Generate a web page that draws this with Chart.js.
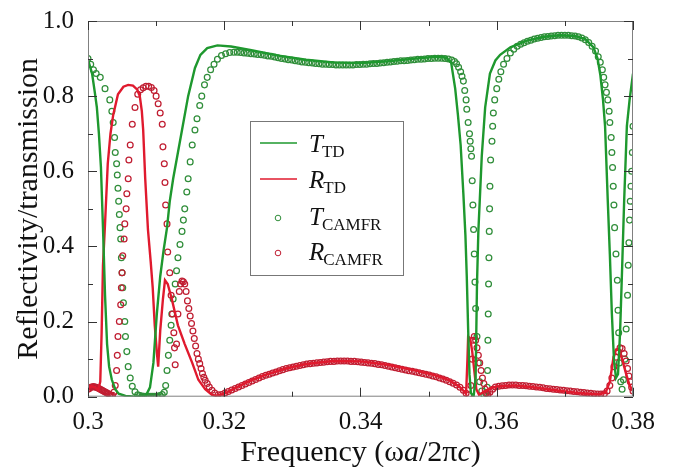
<!DOCTYPE html>
<html><head><meta charset="utf-8">
<script src="https://cdn.jsdelivr.net/npm/chart.js@4.4.1/dist/chart.umd.min.js"></script>
<style>html,body{margin:0;padding:0;background:#fff}#wrap{width:675px;height:467px;position:relative}</style>
</head><body><div id="wrap"><canvas id="c" width="675" height="467"></canvas></div>
<script>
// ---- Data ----
const xTickLabels = ["0.3","0.32","0.34","0.36","0.38"];
const yTickLabels = ["0.0","0.2","0.4","0.6","0.8","1.0"];
const seriesNames = ["T_TD","R_TD","T_CAMFR","R_CAMFR"];

// T_TD (solid green line)
const tdTx = [0.3000,0.3006,0.3010,0.3013,0.3016,0.3019,0.3022,0.3025,0.3028,0.3031,0.3035,0.3040,0.3045,0.3055,0.3070,0.3085,0.3091,0.3096,0.3101,0.3106,0.3111,0.3116,0.3120,0.3125,0.3132,0.3138,0.3147,0.3157,0.3165,0.3175,0.3190,0.3210,0.3240,0.3280,0.3320,0.3360,0.3400,0.3440,0.3480,0.3510,0.3525,0.3533,0.3539,0.3543,0.3547,0.3551,0.3554,0.3556,0.3558,0.3560,0.3562,0.3566,0.3569,0.3571,0.3573,0.3575,0.3578,0.3583,0.3590,0.3598,0.3605,0.3620,0.3644,0.3670,0.3693,0.3715,0.3730,0.3742,0.3748,0.3752,0.3756,0.3759,0.3763,0.3766,0.3769,0.3772,0.3775,0.3778,0.3781,0.3784,0.3787,0.3791,0.3795,0.3800];
const tdT  = [0.897,0.86,0.81,0.77,0.70,0.61,0.45,0.27,0.14,0.08,0.045,0.02,0.008,0.002,0.0,0.003,0.025,0.09,0.22,0.32,0.39,0.45,0.52,0.58,0.65,0.71,0.80,0.875,0.91,0.928,0.935,0.932,0.922,0.908,0.897,0.890,0.888,0.893,0.900,0.905,0.903,0.89,0.82,0.75,0.67,0.54,0.43,0.32,0.18,0.06,0.01,0.0,0.05,0.30,0.44,0.52,0.64,0.77,0.86,0.895,0.91,0.93,0.948,0.958,0.962,0.96,0.952,0.93,0.90,0.857,0.79,0.72,0.52,0.38,0.22,0.10,0.05,0.06,0.17,0.34,0.52,0.72,0.79,0.86];

// R_TD (solid red line)
const tdRx = [0.3000,0.3005,0.3010,0.3015,0.3018,0.3020,0.3022,0.3025,0.3029,0.3033,0.3037,0.3044,0.3052,0.3059,0.3066,0.3072,0.3076,0.3079,0.3081,0.3084,0.3088,0.3092,0.3095,0.3098,0.3101,0.3103,0.3106,0.3110,0.3113,0.3117,0.3123,0.3132,0.3142,0.3153,0.3162,0.3172,0.3182,0.3190,0.3200,0.3215,0.3235,0.3260,0.3290,0.3320,0.3360,0.3400,0.3440,0.3480,0.3510,0.3530,0.3545,0.3552,0.3555,0.3557,0.3558,0.3561,0.3564,0.3567,0.3570,0.3574,0.3580,0.3590,0.3600,0.3625,0.3650,0.3675,0.3700,0.3725,0.3750,0.3760,0.3766,0.3771,0.3775,0.3779,0.3784,0.3790,0.3795,0.3800];
const tdR  = [0.02,0.028,0.025,0.018,0.04,0.17,0.35,0.46,0.62,0.70,0.75,0.805,0.825,0.83,0.828,0.818,0.80,0.76,0.71,0.58,0.445,0.36,0.29,0.19,0.12,0.08,0.175,0.26,0.31,0.30,0.26,0.19,0.14,0.09,0.045,0.02,0.005,0.002,0.008,0.022,0.04,0.058,0.075,0.087,0.095,0.094,0.085,0.07,0.057,0.044,0.027,0.014,0.008,0.10,0.16,0.155,0.12,0.07,0.02,0.005,0.012,0.022,0.027,0.03,0.026,0.02,0.014,0.009,0.006,0.012,0.04,0.10,0.125,0.125,0.10,0.06,0.03,0.015];

// T_CAMFR (green circles)
const camTx = [0.3000,0.3004,0.3008,0.3012,0.3018,0.3025,0.3032,0.3035,0.3037,0.3039,0.3040,0.3042,0.3043,0.3044,0.3045,0.3046,0.3047,0.3048,0.3049,0.3050,0.3051,0.3052,0.3054,0.3055,0.3057,0.3059,0.3062,0.3065,0.3069,0.3073,0.3076,0.3079,0.3082,0.3085,0.3088,0.3091,0.3094,0.3097,0.3100,0.3103,0.3106,0.3109,0.3112,0.3114,0.3116,0.3118,0.3120,0.3122,0.3123,0.3125,0.3128,0.3130,0.3132,0.3135,0.3138,0.3140,0.3142,0.3145,0.3147,0.3150,0.3153,0.3157,0.3160,0.3164,0.3167,0.3171,0.3175,0.3180,0.3185,0.3190,0.3196,0.3202,0.3208,
0.3214,0.3219,0.3224,0.3229,0.3234,0.3239,0.3244,0.3249,0.3254,0.3259,0.3264,0.3269,0.3274,0.3279,0.3284,0.3289,0.3294,0.3299,0.3304,0.3309,0.3314,0.3319,0.3324,0.3329,0.3334,0.3339,0.3344,0.3349,0.3354,0.3359,0.3364,0.3369,0.3374,0.3379,0.3384,0.3389,0.3394,0.3399,0.3404,0.3409,0.3414,0.3419,0.3424,0.3429,0.3434,0.3439,0.3444,0.3449,0.3454,0.3459,0.3464,0.3469,0.3474,0.3479,0.3484,0.3489,0.3494,0.3499,0.3504,0.3509,0.3514,0.3519,0.3524,0.3529,0.3534,0.3538,0.3541,0.3544,0.3547,0.3549,0.3551,0.3553,0.3555,0.3556,0.3558,0.3560,0.3561,0.3562,0.3563,0.3564,0.3565,0.3566,0.3567,0.3568,0.3569,0.3571,0.3573,0.3575,0.3578,0.3581,0.3584,0.3586,0.35865,0.3587,0.35875,0.3588,0.35885,0.3589,0.35895,0.3590,0.3591,0.3593,0.3594,0.3595,0.3597,0.3600,0.3603,0.3606,0.3610,0.3615,0.3620,
0.3625,0.3630,0.3635,0.3640,0.3645,0.3650,0.3655,0.3660,0.3665,0.3670,0.3675,0.3680,0.3685,0.3690,0.3695,0.3700,0.3705,0.3710,0.3715,0.3720,0.3725,0.3730,0.3735,0.3740,0.3745,0.3749,0.3752,0.3755,0.3757,0.3759,0.3761,0.3763,0.3765,0.3766,0.3768,0.3769,0.3770,0.3771,0.3772,0.3773,0.3775,0.3777,0.3778,0.3779,0.3780,0.3782,0.3784,0.3786,0.3788,0.3790,0.3792,0.3793,0.3794,0.3795,0.3796,0.3797,0.3798,0.3799,0.3800];
const camT = [0.90,0.885,0.87,0.86,0.85,0.82,0.79,0.76,0.73,0.69,0.65,0.62,0.59,0.555,0.52,0.485,0.45,0.42,0.37,0.33,0.29,0.25,0.20,0.16,0.12,0.08,0.05,0.028,0.013,0.005,0.003,0.002,0.001,0.001,0.001,0.001,0.001,0.001,0.001,0.002,0.003,0.006,0.012,0.03,0.07,0.11,0.15,0.19,0.22,0.26,0.30,0.335,0.37,0.405,0.44,0.47,0.50,0.545,0.58,0.625,0.67,0.71,0.74,0.775,0.80,0.83,0.85,0.87,0.885,0.898,0.908,0.913,0.916,
0.917,0.917,0.916,0.915,0.914,0.913,0.912,0.911,0.91,0.909,0.907,0.906,0.904,0.902,0.90,0.899,0.897,0.896,0.894,0.893,0.891,0.89,0.889,0.888,0.887,0.886,0.885,0.885,0.884,0.884,0.883,0.883,0.883,0.883,0.883,0.883,0.884,0.884,0.885,0.885,0.886,0.887,0.887,0.888,0.889,0.89,0.891,0.892,0.893,0.894,0.894,0.895,0.896,0.897,0.898,0.898,0.899,0.90,0.90,0.901,0.901,0.901,0.90,0.899,0.896,0.892,0.886,0.877,0.865,0.853,0.84,0.815,0.79,0.765,0.73,0.70,0.68,0.66,0.64,0.575,0.51,0.445,0.38,0.305,0.235,0.16,0.09,0.04,0.015,0.005,0.008,0.025,0.07,0.15,0.22,0.30,0.37,0.44,0.50,0.56,0.63,0.68,0.72,0.755,0.79,0.82,0.845,0.865,0.885,0.90,0.915,
0.925,0.933,0.938,0.942,0.946,0.949,0.952,0.954,0.956,0.958,0.959,0.96,0.961,0.962,0.962,0.962,0.962,0.961,0.96,0.958,0.955,0.95,0.943,0.933,0.92,0.905,0.89,0.87,0.85,0.83,0.81,0.79,0.76,0.73,0.69,0.65,0.61,0.56,0.51,0.45,0.38,0.31,0.23,0.17,0.09,0.04,0.02,0.045,0.10,0.18,0.27,0.35,0.41,0.47,0.52,0.56,0.60,0.65,0.72];

// R_CAMFR (red circles)
const camRx = [0.3000,0.3002,0.3004,0.3006,0.3008,0.3010,0.3012,0.3014,0.3016,0.3018,0.3020,0.3022,0.3024,0.3026,0.3028,0.3030,0.3032,0.3034,0.3036,0.3038,0.3040,0.3042,0.3043,0.3044,0.3046,0.3048,0.3049,0.3050,0.3051,0.3053,0.3054,0.3056,0.3057,0.3059,0.3060,0.3062,0.3065,0.3069,0.3073,0.3077,0.3081,0.3085,0.3089,0.3093,0.3097,0.3100,0.3103,0.3106,0.3109,0.3110,0.3112,0.3113,0.3114,0.3116,0.3117,0.3120,0.3122,0.3124,0.3126,0.3127,0.3128,0.3130,0.3132,0.3134,0.3136,0.3138,0.3140,0.3142,0.3144,0.3146,0.3148,0.3150,0.3152,0.3154,0.3156,0.3158,0.3160,0.3162,0.3164,0.3166,0.3168,0.3170,0.3172,0.3175,0.3178,0.3182,0.3186,0.3191,0.3196,0.3201,
0.3206,0.3211,0.3216,0.3221,0.3226,0.3231,0.3236,0.3241,0.3246,0.3251,0.3256,0.3261,0.3266,0.3271,0.3276,0.3281,0.3286,0.3291,0.3296,0.3301,0.3306,0.3311,0.3316,0.3321,0.3326,0.3331,0.3336,0.3341,0.3346,0.3351,0.3356,0.3361,0.3366,0.3371,0.3376,0.3381,0.3386,0.3391,0.3396,0.3401,0.3406,0.3411,0.3416,0.3421,0.3426,0.3431,0.3436,0.3441,0.3446,0.3451,0.3456,0.3461,0.3466,0.3471,0.3476,0.3481,0.3486,0.3491,0.3496,0.3501,0.3506,0.3511,0.3516,0.3521,0.3526,0.3531,0.3536,0.3541,0.3546,0.3551,0.3555,
0.3559,0.3562,0.3564,0.3565,0.3567,0.3569,0.3571,0.3573,0.3575,0.3577,0.3579,0.3581,0.3583,0.3585,0.3587,0.3590,0.3594,
0.3598,0.3603,0.3608,0.3613,0.3618,0.3623,0.3628,0.3633,0.3638,0.3643,0.3648,0.3653,0.3658,0.3663,0.3668,0.3673,0.3678,0.3683,0.3688,0.3693,0.3698,0.3703,0.3708,0.3713,0.3718,0.3723,0.3728,0.3733,0.3738,0.3743,0.3748,0.3753,0.3758,
0.3762,0.3766,0.3769,0.3772,0.3775,0.3778,0.3781,0.3784,0.3787,0.3790,0.3792,0.3794,0.3796,0.3798,0.3800];
const camR = [0.02,0.022,0.025,0.026,0.027,0.026,0.025,0.024,0.022,0.02,0.018,0.016,0.014,0.012,0.01,0.008,0.005,0.003,0.004,0.012,0.03,0.07,0.11,0.16,0.20,0.245,0.29,0.33,0.375,0.42,0.46,0.50,0.54,0.58,0.63,0.67,0.725,0.77,0.805,0.817,0.822,0.826,0.826,0.823,0.815,0.80,0.78,0.755,0.725,0.665,0.62,0.57,0.51,0.46,0.385,0.33,0.27,0.22,0.17,0.13,0.085,0.14,0.22,0.28,0.30,0.308,0.306,0.30,0.28,0.255,0.235,0.215,0.195,0.175,0.155,0.135,0.115,0.10,0.088,0.075,0.062,0.052,0.044,0.035,0.026,0.017,0.01,0.005,0.006,0.01,
0.014,0.018,0.022,0.026,0.03,0.034,0.038,0.042,0.046,0.05,0.054,0.057,0.06,0.063,0.066,0.069,0.072,0.075,0.077,0.079,0.081,0.083,0.085,0.087,0.088,0.089,0.09,0.091,0.092,0.093,0.094,0.094,0.095,0.095,0.095,0.095,0.094,0.094,0.093,0.092,0.091,0.09,0.089,0.088,0.086,0.085,0.083,0.081,0.079,0.077,0.075,0.073,0.071,0.069,0.068,0.066,0.064,0.062,0.06,0.058,0.055,0.053,0.05,0.047,0.044,0.04,0.036,0.031,0.025,0.017,0.009,
0.005,0.03,0.10,0.15,0.16,0.15,0.13,0.11,0.09,0.07,0.05,0.035,0.02,0.01,0.006,0.012,0.02,
0.026,0.028,0.029,0.03,0.031,0.031,0.031,0.03,0.03,0.029,0.028,0.027,0.026,0.025,0.024,0.022,0.021,0.02,0.019,0.018,0.017,0.016,0.015,0.014,0.013,0.012,0.011,0.01,0.009,0.008,0.007,0.007,0.008,
0.015,0.03,0.05,0.08,0.105,0.12,0.13,0.128,0.115,0.095,0.075,0.055,0.04,0.025,0.015];

// ---- Styling ----
const GREEN_LINE = 'rgb(30,152,46)';
const RED_LINE = 'rgb(224,26,46)';
const GREEN_PT = 'rgb(48,142,58)';
const RED_PT = 'rgb(192,30,50)';
const SERIF = '"Liberation Serif", "DejaVu Serif", serif';

function zip(xs, ys){ return xs.map((x,i)=>({x:x, y:ys[i]})); }

const framePlugin = {
  id: 'frame',
  afterDraw(chart){
    const {ctx, chartArea:a, scales:{x, y}} = chart;
    ctx.save();
    ctx.strokeStyle = '#808080';
    ctx.lineWidth = 1;
    ctx.strokeRect(a.left+0.5, a.top+0.5, a.right-a.left-1, a.bottom-a.top-1);
    ctx.strokeStyle = '#333';
    ctx.beginPath();
    for (let i=0;i<=8;i++){
      const v = 0.30 + i*0.01;
      const px = Math.round(x.getPixelForValue(v))+0.5;
      const L = (i%2===0)?9:5;
      ctx.moveTo(px, a.bottom); ctx.lineTo(px, a.bottom-L);
      ctx.moveTo(px, a.top); ctx.lineTo(px, a.top+L);
    }
    for (let i=0;i<=10;i++){
      const v = i*0.1;
      const py = Math.round(y.getPixelForValue(v))+0.5;
      const L = (i%2===0)?9:5;
      ctx.moveTo(a.left, py); ctx.lineTo(a.left+L, py);
      ctx.moveTo(a.right, py); ctx.lineTo(a.right-L, py);
    }
    ctx.stroke();

    // axis titles
    ctx.fillStyle = '#111';
    ctx.textBaseline = 'alphabetic';
    const segs = [["Frequency (ω",false],["a",true],["/2π",false],["c",true],[")",false]];
    const fN = '30px '+SERIF, fI = 'italic 30px '+SERIF;
    let w = 0;
    segs.forEach(s=>{ ctx.font = s[1]?fI:fN; w += ctx.measureText(s[0]).width; });
    let cx = (a.left+a.right)/2 - w/2;
    segs.forEach(s=>{ ctx.font = s[1]?fI:fN; ctx.textAlign='left'; ctx.fillText(s[0], cx, 461); cx += ctx.measureText(s[0]).width; });

    ctx.save();
    ctx.translate(37, (a.top+a.bottom)/2);
    ctx.rotate(-Math.PI/2);
    ctx.font = fN; ctx.textAlign='center';
    ctx.fillText('Reflectivity/transmission', 0, 0);
    ctx.restore();

    // legend
    ctx.fillStyle = '#fff';
    ctx.fillRect(250, 121, 153, 154);
    ctx.strokeStyle = '#777';
    ctx.lineWidth = 1;
    ctx.strokeRect(250.5, 121.5, 153, 154);
    const rows = [
      {sym:'T', sub:'TD', kind:'line', col:GREEN_LINE, y:152},
      {sym:'R', sub:'TD', kind:'line', col:RED_LINE, y:188},
      {sym:'T', sub:'CAMFR', kind:'pt', col:GREEN_PT, y:225},
      {sym:'R', sub:'CAMFR', kind:'pt', col:RED_PT, y:260}
    ];
    rows.forEach(r=>{
      ctx.strokeStyle = r.col;
      if (r.kind==='line'){
        ctx.lineWidth = 1.6;
        ctx.beginPath(); ctx.moveTo(260, r.y-9); ctx.lineTo(297, r.y-9); ctx.stroke();
      } else {
        ctx.lineWidth = 1;
        ctx.beginPath(); ctx.arc(278, r.y-7, 2.8, 0, Math.PI*2); ctx.stroke();
      }
      ctx.fillStyle = '#111';
      ctx.textAlign = 'left';
      ctx.font = 'italic 25px '+SERIF;
      ctx.fillText(r.sym, 309, r.y);
      const tw = ctx.measureText(r.sym).width;
      ctx.font = '17px '+SERIF;
      ctx.fillText(r.sub, 309+tw-1, r.y+5);
    });
    ctx.restore();
  }
};

new Chart(document.getElementById('c'), {
  type: 'scatter',
  data: {
    datasets: [
      {label: seriesNames[0], data: zip(tdTx, tdT), showLine: true, borderColor: GREEN_LINE, borderWidth: 2.4, pointRadius: 0, tension: 0},
      {label: seriesNames[1], data: zip(tdRx, tdR), showLine: true, borderColor: RED_LINE, borderWidth: 2.4, pointRadius: 0, tension: 0},
      {label: seriesNames[3], data: zip(camRx, camR), showLine: false, borderColor: RED_PT, backgroundColor: 'rgba(0,0,0,0)', borderWidth: 1.25, pointRadius: 2.9, pointStyle: 'circle'},
      {label: seriesNames[2], data: zip(camTx, camT), showLine: false, borderColor: GREEN_PT, backgroundColor: 'rgba(0,0,0,0)', borderWidth: 1.25, pointRadius: 2.9, pointStyle: 'circle'}
    ]
  },
  options: {
    responsive: false,
    animation: false,
    devicePixelRatio: 1,
    layout: {padding: {top: 15.5, right: 42, left: 0, bottom: 0}},
    plugins: {legend: {display: false}, tooltip: {enabled: false}, title: {display: false}},
    scales: {
      x: {
        type: 'linear', min: 0.3, max: 0.38,
        grid: {display: false}, border: {display: false},
        ticks: {stepSize: 0.02, color: '#111', padding: 3, maxRotation: 0, autoSkip: false,
          font: {family: SERIF, size: 25},
          callback: (v) => { const i = Math.round((v-0.3)/0.02); return xTickLabels[i]; }},
        afterFit: (s) => { s.height = 70.3; }
      },
      y: {
        type: 'linear', min: 0, max: 1,
        grid: {display: false}, border: {display: false},
        ticks: {stepSize: 0.2, color: '#111', padding: 6,
          font: {family: SERIF, size: 25},
          callback: (v) => { const i = Math.round(v/0.2); return yTickLabels[i]; }},
        afterFit: (s) => { s.width = 88; }
      }
    }
  },
  plugins: [framePlugin]
});
</script>
</body></html>
